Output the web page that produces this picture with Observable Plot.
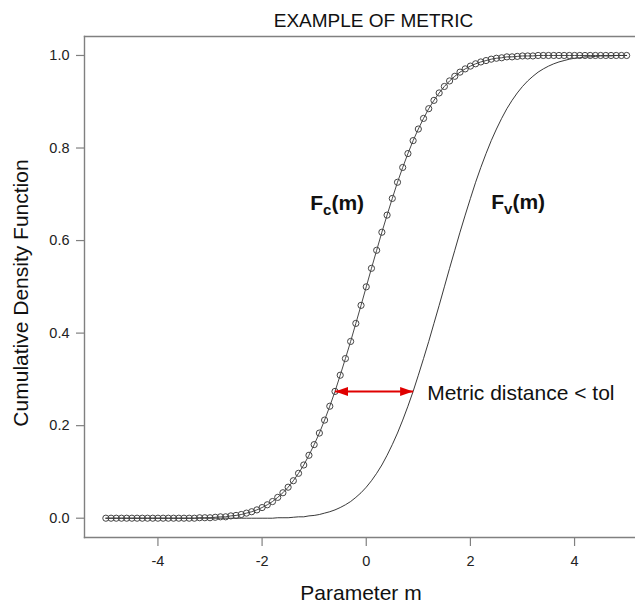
<!DOCTYPE html>
<html><head><meta charset="utf-8">
<script src="https://cdn.jsdelivr.net/npm/d3@7"></script>
<script src="https://cdn.jsdelivr.net/npm/@observablehq/plot@0.6"></script>
<style>body{margin:0;background:#fff}</style>
</head><body><div id="chart"></div>
<script>
// Parameter grid (one circle every 0.1)
const mValues = [
  -5.0,-4.9,-4.8,-4.7,-4.6,-4.5,-4.4,-4.3,-4.2,-4.1,
  -4.0,-3.9,-3.8,-3.7,-3.6,-3.5,-3.4,-3.3,-3.2,-3.1,
  -3.0,-2.9,-2.8,-2.7,-2.6,-2.5,-2.4,-2.3,-2.2,-2.1,
  -2.0,-1.9,-1.8,-1.7,-1.6,-1.5,-1.4,-1.3,-1.2,-1.1,
  -1.0,-0.9,-0.8,-0.7,-0.6,-0.5,-0.4,-0.3,-0.2,-0.1,
  0.0,0.1,0.2,0.3,0.4,0.5,0.6,0.7,0.8,0.9,
  1.0,1.1,1.2,1.3,1.4,1.5,1.6,1.7,1.8,1.9,
  2.0,2.1,2.2,2.3,2.4,2.5,2.6,2.7,2.8,2.9,
  3.0,3.1,3.2,3.3,3.4,3.5,3.6,3.7,3.8,3.9,
  4.0,4.1,4.2,4.3,4.4,4.5,4.6,4.7,4.8,4.9,5.0
];
// F_c(m): circles + thin line
const fcValues = [
  0,0,0,0,0,0,0,0,0,0,0,0,0,0,0,0,0,0,
  0.001,0.001,0.001,0.002,0.003,0.003,0.005,0.006,0.008,0.011,0.014,0.018,0.023,0.029,0.036,0.045,
  0.055,0.067,0.081,0.097,0.115,0.136,0.159,0.184,0.212,0.242,0.274,0.309,0.345,0.382,0.421,0.460,
  0.500,
  0.540,0.579,0.618,0.655,0.691,0.726,0.758,0.788,0.816,0.841,0.864,0.885,0.903,0.919,0.933,0.945,
  0.955,0.964,0.971,0.977,0.982,0.986,0.989,0.992,0.994,0.995,0.997,0.997,0.998,0.999,0.999,0.999,
  1,1,1,1,1,1,1,1,1,1,1,1,1,1,1,1,1,1
];
// F_v(m): plain line
const fvValues = [
  0,0,0,0,0,0,0,0,0,0,0,0,0,0,0,0,0,0,0,0,0,0,0,0,0,0,0,0,0,0,0,0,0,
  0.001,0.001,0.001,0.002,0.003,0.003,0.005,0.006,0.008,0.011,0.014,0.018,0.023,0.029,0.036,0.045,
  0.055,0.067,0.081,0.097,0.115,0.136,0.159,0.184,0.212,0.242,0.274,0.309,0.345,0.382,0.421,0.460,
  0.500,
  0.540,0.579,0.618,0.655,0.691,0.726,0.758,0.788,0.816,0.841,0.864,0.885,0.903,0.919,0.933,0.945,
  0.955,0.964,0.971,0.977,0.982,0.986,0.989,0.992,0.994,0.995,0.997,0.997,0.998,0.999,0.999,0.999,
  1,1,1
];
const xTicks = [-4, -2, 0, 2, 4];
const yTicks = [0, 0.2, 0.4, 0.6, 0.8, 1.0];
const titleText = "EXAMPLE OF METRIC";
const xLabel = "Parameter m";
const yLabel = "Cumulative Density Function";
// arrow: between the two curves at the same CDF level
const arrowFrom = -0.6, arrowTo = 0.9, arrowLevel = 0.274;
// annotations (data coordinates)
const curveLabels = [
  {m: -1.075, p: 0.681, main: "F", sub: "c", rest: "(m)"},
  {m: 2.40, p: 0.683, main: "F", sub: "v", rest: "(m)"}
];
const noteLabel = {m: 1.17, p: 0.270, text: "Metric distance < tol"};

const fc = mValues.map((m, i) => ({m, p: fcValues[i]}));
const fv = mValues.map((m, i) => ({m, p: fvValues[i]}));
const arrowData = [{x1: arrowFrom, x2: arrowTo, y: arrowLevel}];

const headRight = {draw(c){ c.moveTo(0,0); c.lineTo(-13,-4.5); c.lineTo(-13,4.5); c.closePath(); }};
const headLeft = {draw(c){ c.moveTo(0,0); c.lineTo(13,-4.5); c.lineTo(13,4.5); c.closePath(); }};

const axisColor = "#808080";
const font = "'Liberation Sans', Arial, Helvetica, sans-serif";

const svg = Plot.plot({
  width: 635,
  height: 604,
  marginLeft: 84,
  marginRight: 0,
  marginTop: 36,
  marginBottom: 67,
  style: {fontFamily: font, fontSize: "14px", color: "#222", background: "#fff"},
  x: {domain: [-5.41, 5.17]},
  y: {domain: [-0.0417, 1.041]},
  marks: [
    Plot.frame({anchor: "left", stroke: axisColor, strokeWidth: 1.4}),
    Plot.frame({anchor: "top", stroke: axisColor, strokeWidth: 1.4}),
    Plot.frame({anchor: "bottom", stroke: axisColor, strokeWidth: 1.4}),
    Plot.axisX({ticks: xTicks, tickSize: 9, tickPadding: 9, stroke: axisColor, strokeWidth: 1.2, fill: "#222", fontSize: 14.5, label: null, tickFormat: d => d < 0 ? "-" + Math.abs(d) : String(d)}),
    Plot.axisY({ticks: yTicks, tickSize: 8, tickPadding: 7, stroke: axisColor, strokeWidth: 1.2, fill: "#222", fontSize: 14.5, label: null, tickFormat: d3.format(".1f")}),
    Plot.line(fv, {x: "m", y: "p", stroke: "#222", strokeWidth: 0.9}),
    Plot.line(fc, {x: "m", y: "p", stroke: "#333", strokeWidth: 0.9}),
    Plot.dot(fc, {x: "m", y: "p", r: 3.1, stroke: "#444", strokeWidth: 1, fill: "none"}),
    Plot.link(arrowData, {x1: "x1", x2: "x2", y1: "y", y2: "y", stroke: "#e00000", strokeWidth: 2}),
    Plot.dot(arrowData, {x: "x1", y: "y", symbol: headLeft, fill: "#e00000", stroke: "none"}),
    Plot.dot(arrowData, {x: "x2", y: "y", symbol: headRight, fill: "#e00000", stroke: "none"}),
    Plot.text(curveLabels, {x: "m", y: "p", text: d => d.main + "_" + d.sub + d.rest, textAnchor: "start", lineAnchor: "middle", fontSize: 21, fontWeight: "bold", fill: "#111"}),
    Plot.text([noteLabel], {x: "m", y: "p", text: "text", textAnchor: "start", lineAnchor: "middle", fontSize: 21, fill: "#111"}),
    Plot.text([titleText], {frameAnchor: "top", text: d => d, textAnchor: "middle", lineAnchor: "middle", dx: 13.5, dy: -16, fontSize: 19, fill: "#111"}),
    Plot.text([xLabel], {frameAnchor: "bottom", text: d => d, textAnchor: "middle", lineAnchor: "middle", dx: 1, dy: 55.5, fontSize: 21, fill: "#111"}),
    Plot.text([yLabel], {frameAnchor: "left", text: d => d, textAnchor: "middle", lineAnchor: "middle", rotate: -90, dx: -63.5, dy: 6, fontSize: 21, fill: "#111"})
  ]
});

// subscripts for F_c(m) and F_v(m)
d3.select(svg).selectAll("text").each(function() {
  const t = this.textContent;
  const lab = curveLabels.find(d => d.main + "_" + d.sub + d.rest === t);
  if (!lab) return;
  const sel = d3.select(this);
  sel.text(null);
  sel.append("tspan").text(lab.main);
  sel.append("tspan").attr("dy", 5).attr("font-size", 15).text(lab.sub);
  sel.append("tspan").attr("dy", -5).text(lab.rest);
});

document.getElementById("chart").append(svg);
</script>
</body></html>
